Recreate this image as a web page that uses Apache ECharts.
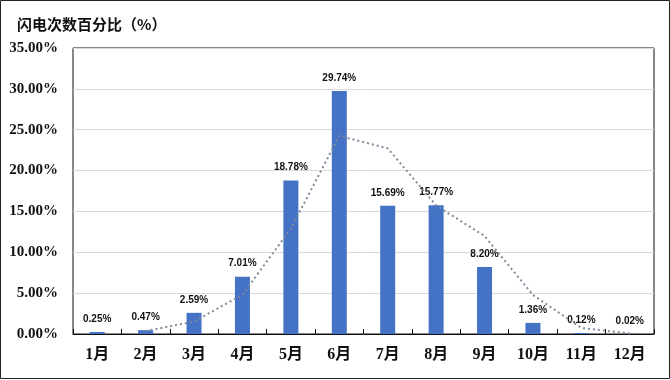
<!DOCTYPE html>
<html><head><meta charset="utf-8">
<script src="https://cdn.jsdelivr.net/npm/echarts@6/dist/echarts.min.js"></script>
<style>html,body{margin:0;padding:0;background:#fff}#c{width:670px;height:380px}</style>
</head><body><div id="c"></div>
<script>
const categories = ['1月','2月','3月','4月','5月','6月','7月','8月','9月','10月','11月','12月'];
const percentValues = [0.25, 0.47, 2.59, 7.01, 18.78, 29.74, 15.69, 15.77, 8.20, 1.36, 0.12, 0.02];
// dotted trend line values (starts at 2月)
const trendValues = [null, 0.36, 1.53, 4.80, 12.90, 24.26, 22.72, 15.73, 11.99, 4.78, 0.74, 0.07];
const yTicks = [0, 5, 10, 15, 20, 25, 30, 35];
const titleText = '闪电次数百分比（%）';

const chart = echarts.init(document.getElementById('c'));
chart.setOption({
  animation: false,
  backgroundColor: '#fff',
  title: {
    text: titleText, left: 12, top: 12,
    textStyle: { fontSize: 15, fontWeight: 'bold', color: '#111', fontFamily: '"Noto Sans CJK SC", sans-serif' }
  },
  graphic: [{
    type: 'rect', shape: { x: 0.5, y: 0.5, width: 669, height: 378 },
    style: { fill: 'none', stroke: '#222', lineWidth: 1 }, silent: true
  }],
  grid: { left: 73, right: 16, top: 48, bottom: 46, show: true, borderColor: '#111', borderWidth: 1, backgroundColor: 'transparent' },
  xAxis: {
    type: 'category', data: categories,
    axisLine: { lineStyle: { color: '#111', width: 1 } },
    axisTick: { show: true, inside: true, length: 5, alignWithLabel: false, lineStyle: { color: '#111' } },
    axisLabel: { margin: 13, fontSize: 16, fontWeight: 'bold', color: '#111', fontFamily: '"Liberation Serif", "Noto Sans CJK SC", serif' }
  },
  yAxis: {
    type: 'value', min: yTicks[0], max: yTicks[yTicks.length - 1], interval: 5,
    axisLine: { show: false }, axisTick: { show: false },
    splitLine: { lineStyle: { color: '#d9d9d9', width: 1 } },
    axisLabel: {
      margin: 15, fontSize: 15, fontWeight: 'bold', color: '#111',
      fontFamily: '"Liberation Serif", serif',
      formatter: v => v.toFixed(2) + '%'
    }
  },
  series: [{
    type: 'bar', data: percentValues, barWidth: 15,
    itemStyle: { color: '#4472C4' },
    label: {
      show: true, position: 'top', distance: 8,
      fontSize: 10, fontWeight: 'bold', color: '#111', fontFamily: '"Liberation Sans", Arial, sans-serif',
      formatter: p => p.value.toFixed(2) + '%'
    },
    z: 2
  }, {
    type: 'line', data: trendValues, symbol: 'none', smooth: false,
    lineStyle: { color: '#7f8a99', width: 2, type: [2, 3] },
    z: 3
  }]
});
</script></body></html>
